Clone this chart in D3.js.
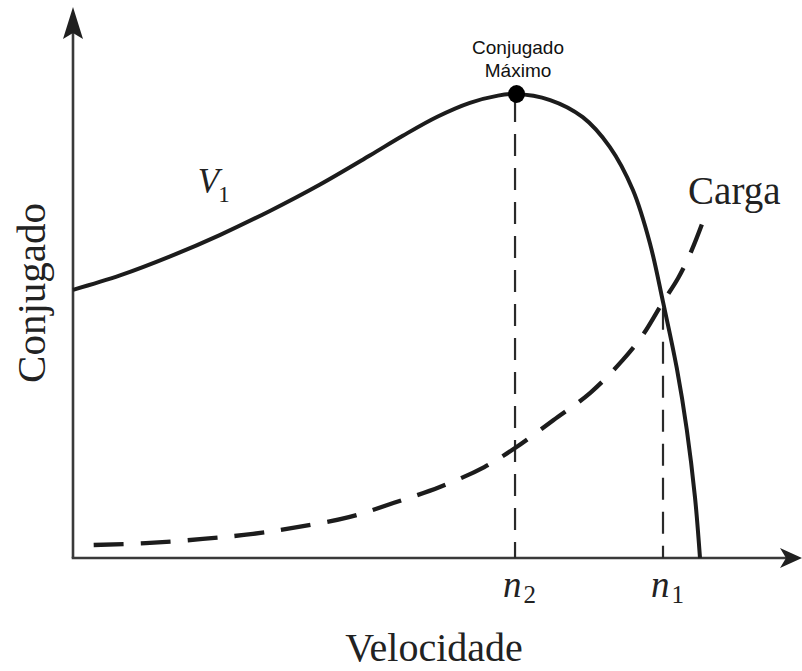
<!DOCTYPE html>
<html>
<head>
<meta charset="utf-8">
<script src="https://cdn.jsdelivr.net/npm/d3@7"></script>
<style>
  html, body { margin: 0; padding: 0; background: #fff; }
  svg { display: block; }
</style>
</head>
<body>
<svg id="chart" width="802" height="671"></svg>
<script>
// Speed as % of synchronous speed, torque as % of maximum torque
const motorSpeed  = [0, 7.5, 15.5, 23.4, 31.4, 39.4, 47.4, 52.6, 58.1, 63.3, 67.6, 70.5, 76.1, 81.3, 85.6, 89.3, 92.0, 94.1, 96.3, 97.9, 99.2, 100];
const motorTorque = [57.8, 60.9, 65.0, 69.6, 74.8, 80.5, 86.8, 91.0, 95.1, 98.1, 99.6, 100, 98.7, 95.0, 88.6, 79.3, 67.9, 55.2, 40.9, 27.6, 13.1, 0];

const loadSpeed  = [3.3, 11.6, 20.7, 28.7, 36.0, 44.0, 51.2, 58.5, 65.6, 70.5, 76.6, 82.5, 87.7, 90.9, 94.1, 96.5, 98.7, 100.8];
const loadTorque = [2.8, 3.2, 4.1, 5.2, 6.7, 8.8, 11.9, 15.3, 19.6, 23.7, 29.7, 35.6, 42.7, 48.1, 55.2, 60.3, 66.4, 73.7];

// Operating points on the speed axis
const speedMarks = [
  { name: "n", sub: "2", speed: 70.5, torque: 100 },   // maximum torque
  { name: "n", sub: "1", speed: 94.1, torque: 55.2 }   // motor meets load
];

const svg = d3.select("#chart");
const x = d3.scaleLinear().domain([0, 100]).range([73, 700]);
const y = d3.scaleLinear().domain([0, 100]).range([558, 94]);

const ink = "#1c1c1c";
const serif = "'Liberation Serif', 'Times New Roman', serif";
const sans = "'Liberation Sans', Arial, sans-serif";

// Axes with arrow heads
const axisColor = "#3a3a3a";
const x0 = x(0), y0 = y(0);
svg.append("line").attr("x1", x0).attr("y1", y0).attr("x2", x0).attr("y2", 20)
  .attr("stroke", axisColor).attr("stroke-width", 2.6);
svg.append("line").attr("x1", x0 - 1.3).attr("y1", y0).attr("x2", 790).attr("y2", y0)
  .attr("stroke", axisColor).attr("stroke-width", 2.6);
svg.append("path")
  .attr("d", `M${x0},7 L${x0 + 10},39 L${x0},33 L${x0 - 10},39 Z`)
  .attr("fill", "#202020");
svg.append("path")
  .attr("d", `M802,${y0} L780,${y0 - 10} L786,${y0} L780,${y0 + 10} Z`)
  .attr("fill", "#202020");

// Vertical reference lines at n2 and n1
svg.selectAll("line.ref")
  .data(speedMarks)
  .join("line")
  .attr("class", "ref")
  .attr("x1", d => x(d.speed)).attr("x2", d => x(d.speed))
  .attr("y1", d => y(d.torque) + 6).attr("y2", y0)
  .attr("stroke", "#2a2a2a").attr("stroke-width", 2.2)
  .attr("stroke-dasharray", "22,12");

const curve = d3.curveCatmullRom.alpha(0.5);

// Load torque curve (dashed)
const loadLine = d3.line().x(d => x(d[0])).y(d => y(d[1])).curve(curve);
svg.append("path")
  .datum(loadSpeed.map((s, i) => [s, loadTorque[i]]))
  .attr("d", loadLine)
  .attr("fill", "none").attr("stroke", ink)
  .attr("stroke-width", 4.3).attr("stroke-dasharray", "30,17");

// Motor torque–speed curve
const motorLine = d3.line().x(d => x(d[0])).y(d => y(d[1])).curve(curve);
svg.append("path")
  .datum(motorSpeed.map((s, i) => [s, motorTorque[i]]))
  .attr("d", motorLine)
  .attr("fill", "none").attr("stroke", ink).attr("stroke-width", 4)
  .attr("stroke-linejoin", "round");

// Maximum torque marker
const peak = speedMarks[0];
svg.append("ellipse")
  .attr("cx", x(peak.speed) + 1.5).attr("cy", y(peak.torque))
  .attr("rx", 8.5).attr("ry", 9)
  .attr("fill", "#000");

svg.append("text")
  .attr("x", x(peak.speed) + 3).attr("y", 54)
  .attr("text-anchor", "middle")
  .attr("font-family", sans).attr("font-size", 19).attr("fill", "#111")
  .selectAll("tspan")
  .data(["Conjugado", "Máximo"])
  .join("tspan")
  .attr("x", x(peak.speed) + 3)
  .attr("dy", (d, i) => i === 0 ? 0 : 23)
  .text(d => d);

// Speed labels n2, n1
const speedLabels = svg.selectAll("text.speed")
  .data(speedMarks)
  .join("text")
  .attr("class", "speed")
  .attr("x", d => x(d.speed) - 12).attr("y", 597)
  .attr("font-family", serif).attr("fill", "#222");
speedLabels.append("tspan")
  .attr("font-style", "italic").attr("font-size", 37)
  .text(d => d.name);
speedLabels.append("tspan")
  .attr("font-size", 25).attr("dx", 2).attr("dy", 6)
  .text(d => d.sub);

// Curve labels
const v1 = svg.append("text")
  .attr("x", x(19.9)).attr("y", y(78.7))
  .attr("font-family", serif).attr("fill", "#222");
v1.append("tspan").attr("font-style", "italic").attr("font-size", 35).text("V");
v1.append("tspan").attr("font-size", 23).attr("dx", -1).attr("dy", 9).text("1");

svg.append("text")
  .attr("x", x(98.1)).attr("y", y(76.3))
  .attr("font-family", serif).attr("font-size", 39).attr("fill", "#222")
  .text("Carga");

// Axis titles
svg.append("text")
  .attr("transform", "translate(45,293) rotate(-90)")
  .attr("text-anchor", "middle")
  .attr("font-family", serif).attr("font-size", 41).attr("fill", "#222")
  .text("Conjugado");

svg.append("text")
  .attr("x", 434).attr("y", 661)
  .attr("text-anchor", "middle")
  .attr("font-family", serif).attr("font-size", 40).attr("fill", "#222")
  .text("Velocidade");
</script>
</body>
</html>
